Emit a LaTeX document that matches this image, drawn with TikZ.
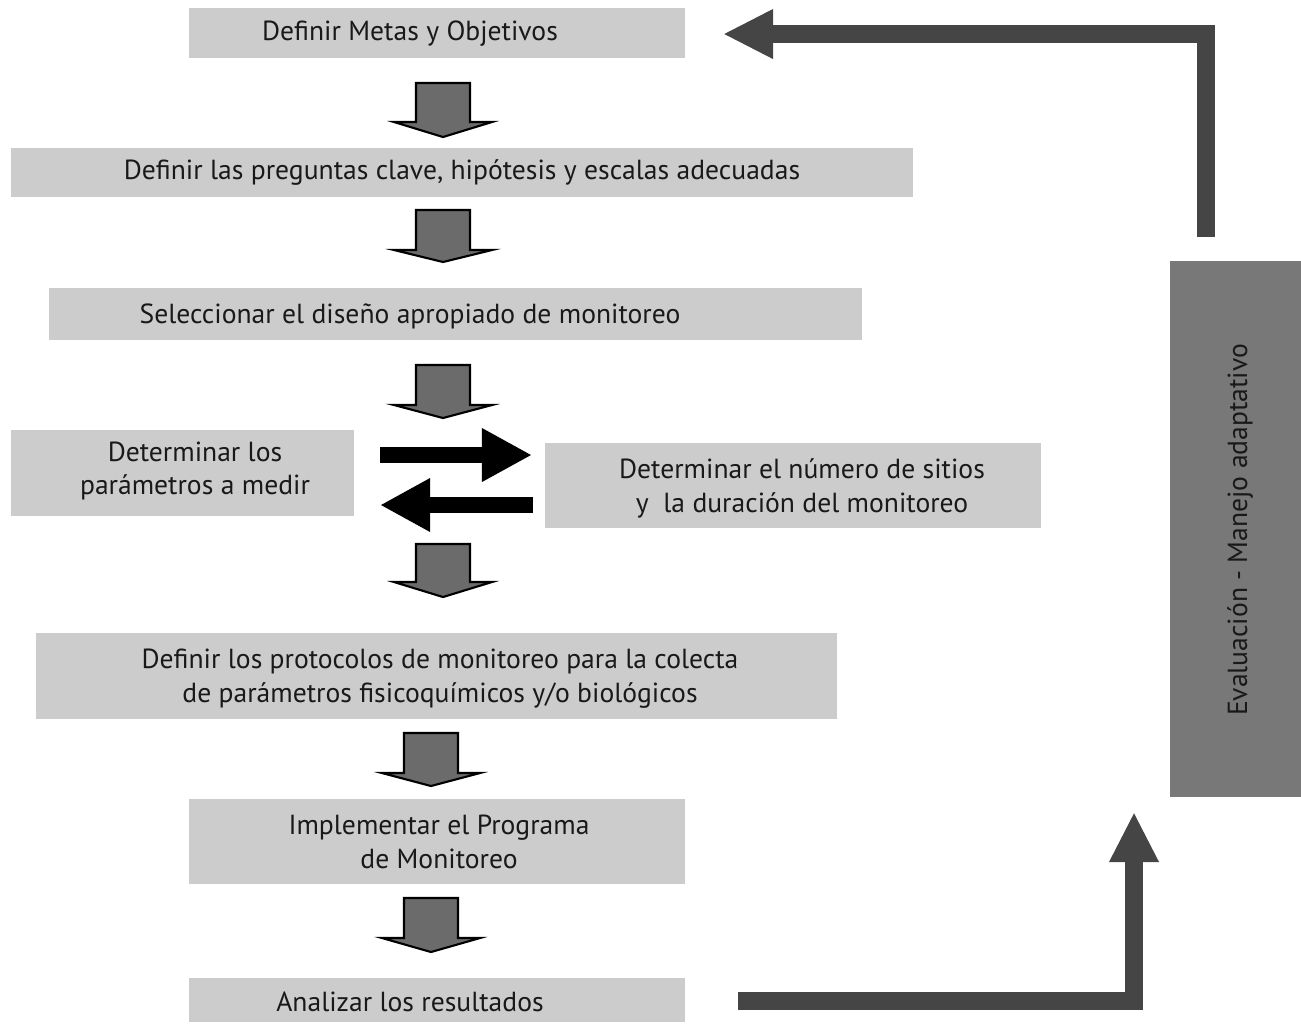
\documentclass[tikz,border=0pt]{standalone}
\usepackage{fontspec}
\setmainfont{PT Sans}
\usetikzlibrary{arrows.meta}
\definecolor{boxgray}{gray}{0.80}
\definecolor{blockgray}{gray}{0.42}
\definecolor{loopgray}{gray}{0.27}
\definecolor{evalgray}{gray}{0.47}
\definecolor{ink}{gray}{0.10}
\begin{document}
\begin{tikzpicture}[x=0.01cm,y=-0.01cm,
  step box/.style={shape=rectangle,fill=boxgray,inner sep=0pt},
  steptext/.style={text=ink,align=center,font=\fontsize{7.85}{9.6}\selectfont},
  blockarrow/.style={fill=blockgray,draw=black,line width=0.6pt,line join=miter},
  swaparrow/.style={draw=black,line width=0.16cm,-{Triangle[width=0.5cm,length=0.5cm]}},
  looparrow/.style={draw=loopgray,line width=0.18cm,-{Triangle[width=0.46cm,length=0.5cm]}}]
\useasboundingbox (0,0) rectangle (1301,1023);

% boxes
\node[step box,minimum width=4.96cm,minimum height=0.50cm] (B1) at (437,33) {};
\node[step box,minimum width=9.02cm,minimum height=0.49cm] (B2) at (462,172.5) {};
\node[step box,minimum width=8.13cm,minimum height=0.52cm] (B3) at (455.5,314) {};
\node[step box,minimum width=3.43cm,minimum height=0.86cm] (B4) at (182.5,473) {};
\node[step box,minimum width=4.96cm,minimum height=0.85cm] (B5) at (793,485.5) {};
\node[step box,minimum width=8.01cm,minimum height=0.86cm] (B6) at (436.5,676) {};
\node[step box,minimum width=4.96cm,minimum height=0.85cm] (B7) at (437,841.5) {};
\node[step box,minimum width=4.96cm,minimum height=0.44cm] (B8) at (437,1000) {};
\node[step box,fill=evalgray,minimum width=1.31cm,minimum height=5.36cm] (EV) at (1235.5,529) {};

% texts
\node[steptext] (T1) at (410,34) {Definir Metas y Objetivos};
\node[steptext] (T2) at (462,172) {Definir las preguntas clave, hipótesis y escalas adecuadas};
\node[steptext] (T3) at (410,316) {Seleccionar el diseño apropiado de monitoreo};
\node[steptext] (T4) at (195,471) {Determinar los\\parámetros a medir};
\node[steptext] (T5) at (802,488) {Determinar el número de sitios\\y\ \ la duración del monitoreo};
\node[steptext] (T6) at (440,679) {Definir los protocolos de monitoreo para la colecta\\de parámetros fisicoquímicos y/o biológicos};
\node[steptext] (T7) at (439,842) {Implementar el Programa\\de Monitoreo};
\node[steptext] (T8) at (410,1002) {Analizar los resultados};
\node[steptext,rotate=90] (TE) at (1240,530) {Evaluación - Manejo adaptativo};

% block arrows: centre x / top / head base / tip
\foreach \cx/\ya/\yb/\yc in {443/83/122/137, 443/210/250/262, 443/365/405/418,
                             443/544/582/597, 431/733/773/786, 431/898/938/952}
  \draw[blockarrow] (\cx-27,\ya) -- (\cx+27,\ya) -- (\cx+27,\yb) -- (\cx+49,\yb)
    -- (\cx,\yc) -- (\cx-49,\yb) -- (\cx-27,\yb) -- cycle;

% back and forth
\coordinate (R0) at (380,455);
\coordinate (R1) at (532,455);
\coordinate (L0) at (533,505);
\coordinate (L1) at (380,505);
\draw[swaparrow] (R0) -- (R1);
\draw[swaparrow] (L0) -- (L1);

% feedback loop
\coordinate (F0) at (738,1001);
\coordinate (F1) at (1134,1001);
\coordinate (F2) at (1134,812);
\coordinate (G0) at (1206,237);
\coordinate (G1) at (1206,34);
\coordinate (G2) at (723,34);
\draw[looparrow] (F0) -- (F1) -- (F2);
\draw[looparrow] (G0) -- (G1) -- (G2);
\end{tikzpicture}
\end{document}
